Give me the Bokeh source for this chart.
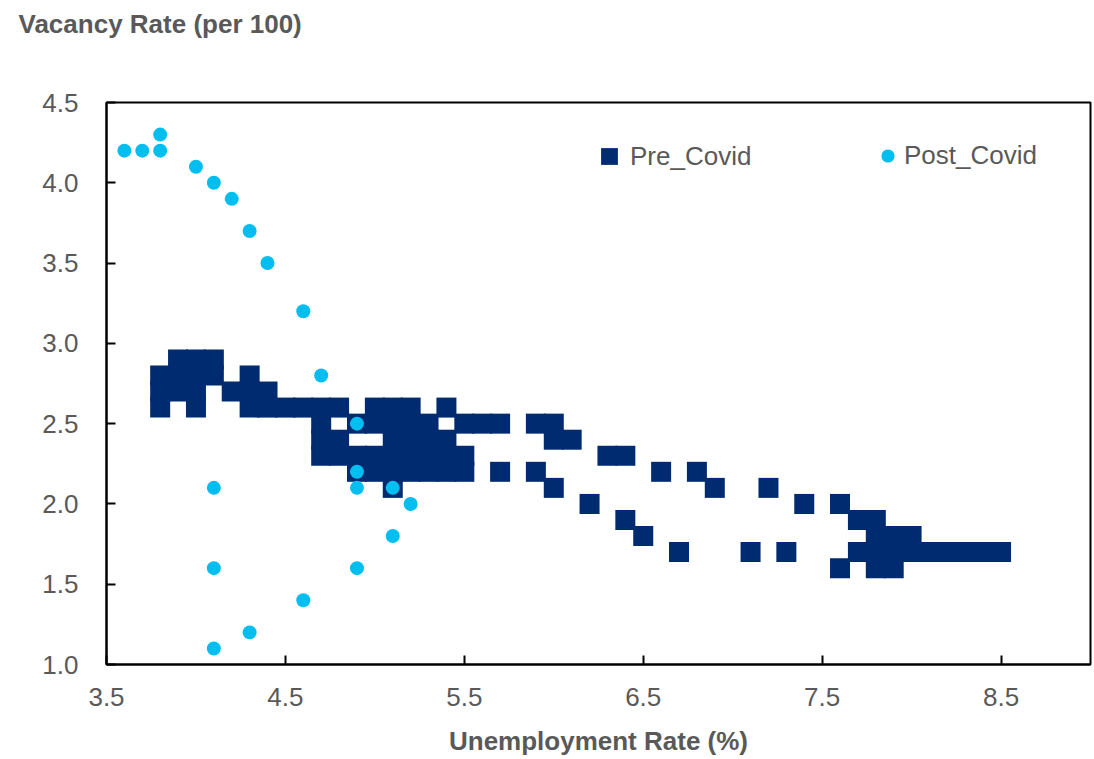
from bokeh.plotting import figure
from bokeh.models import Range1d, FixedTicker, Legend, LegendItem, Title
from bokeh.embed import file_html
from bokeh.resources import INLINE

# ---- data -------------------------------------------------------------
pre_unemp = [
    3.9, 4.0, 4.1,
    3.8, 3.9, 4.0, 4.1, 4.3,
    3.8, 3.9, 4.0, 4.2, 4.3, 4.4,
    3.8, 4.0, 4.3, 4.4, 4.5, 4.6, 4.7, 4.8, 5.0, 5.1, 5.2, 5.4,
    4.7, 4.9, 5.0, 5.1, 5.2, 5.3, 5.5, 5.6, 5.7, 5.9, 6.0,
    4.7, 4.8, 5.1, 5.2, 5.3, 5.4, 6.0, 6.1,
    4.7, 4.8, 4.9, 5.0, 5.1, 5.2, 5.3, 5.4, 5.5, 6.3, 6.4,
    4.9, 5.0, 5.1, 5.2, 5.3, 5.4, 5.5, 5.7, 5.9, 6.6, 6.8,
    5.1, 6.0, 6.9, 7.2,
    6.2, 7.4, 7.6,
    6.4, 7.7, 7.8,
    6.5, 7.8, 7.9, 8.0,
    6.7, 7.1, 7.3, 7.7, 7.8, 7.9, 8.0, 8.1, 8.2, 8.3, 8.4, 8.5,
    7.6, 7.8, 7.9,
]
pre_vac = (
    [2.9] * 3 + [2.8] * 5 + [2.7] * 6 + [2.6] * 12 + [2.5] * 11 + [2.4] * 8
    + [2.3] * 11 + [2.2] * 11 + [2.1] * 4 + [2.0] * 3 + [1.9] * 3 + [1.8] * 4
    + [1.7] * 12 + [1.6] * 3
)

post_unemp = [3.6, 3.7, 3.8, 3.8, 4.0, 4.1, 4.2, 4.3, 4.4, 4.6, 4.7, 4.9,
              4.9, 4.9, 5.1, 5.2, 5.1, 4.9, 4.1, 4.1, 4.6, 4.3, 4.1]
post_vac = [4.2, 4.2, 4.2, 4.3, 4.1, 4.0, 3.9, 3.7, 3.5, 3.2, 2.8, 2.5,
            2.2, 2.1, 2.1, 2.0, 1.8, 1.6, 2.1, 1.6, 1.4, 1.2, 1.1]

series_names = ["Pre_Covid", "Post_Covid"]
x_ticks = [3.5, 4.5, 5.5, 6.5, 7.5, 8.5]
x_tick_labels = ["3.5", "4.5", "5.5", "6.5", "7.5", "8.5"]
y_ticks = [1.0, 1.5, 2.0, 2.5, 3.0, 3.5, 4.0, 4.5]
y_tick_labels = ["1.0", "1.5", "2.0", "2.5", "3.0", "3.5", "4.0", "4.5"]
x_title = "Unemployment Rate (%)"
y_title = "Vacancy Rate (per 100)"

# ---- style ------------------------------------------------------------
NAVY = "#002B70"
CYAN = "#00BEF0"
GREY = "#595959"
FONT = "Liberation Sans"

p = figure(width=1092, height=759,
           x_range=Range1d(3.5, 9.0), y_range=Range1d(1.0, 4.5),
           output_backend="svg", toolbar_location=None,
           min_border_left=106, min_border_right=2,
           min_border_top=102, min_border_bottom=95,
           background_fill_color="white", border_fill_color="white")
p.grid.visible = False
p.outline_line_color = "black"
p.outline_line_width = 2

sq = p.scatter(pre_unemp, pre_vac, marker="square", size=20,
               fill_color=NAVY, line_color=None)
ci = p.scatter(post_unemp, post_vac, marker="circle", size=14,
               fill_color=CYAN, line_color=None)

for ax in (p.xaxis[0], p.yaxis[0]):
    ax.major_tick_in = 9
    ax.major_tick_out = 0
    ax.major_tick_line_width = 2
    ax.major_tick_line_color = "black"
    ax.minor_tick_line_color = None
    ax.axis_line_width = 2
    ax.axis_line_color = "black"
    ax.major_label_text_font = FONT
    ax.major_label_text_font_size = "26px"
    ax.major_label_text_color = GREY

p.xaxis.ticker = FixedTicker(ticks=x_ticks)
p.xaxis.major_label_overrides = dict(zip(x_ticks, x_tick_labels))
p.xaxis.major_label_standoff = 23
p.xaxis.axis_label = x_title
p.xaxis.axis_label_text_font = FONT
p.xaxis.axis_label_text_font_style = "bold"
p.xaxis.axis_label_text_font_size = "26px"
p.xaxis.axis_label_text_color = GREY
p.xaxis.axis_label_standoff = 17

p.yaxis.ticker = FixedTicker(ticks=y_ticks)
p.yaxis.major_label_overrides = dict(zip(y_ticks, y_tick_labels))
p.yaxis.major_label_standoff = 28

# spacer panel between the title and the frame
p.add_layout(Title(text=" ", text_font_size="1px", standoff=52), "above")

p.title.text = y_title
p.title.align = "left"
p.title.vertical_align = "top"
p.title.offset = -88
p.title.standoff = 14
p.title.text_font = FONT
p.title.text_font_style = "bold"
p.title.text_font_size = "26px"
p.title.text_color = GREY

common = dict(orientation="horizontal", padding=0, margin=0,
              border_line_color=None, background_fill_alpha=0,
              label_text_font=FONT, label_text_font_size="26px",
              label_text_color=GREY, label_standoff=0)
leg1 = Legend(items=[LegendItem(label=series_names[0], renderers=[sq])],
              location=(482, 487), glyph_width=42, glyph_height=42, **common)
leg2 = Legend(items=[LegendItem(label=series_names[1], renderers=[ci])],
              location=(765, 492), glyph_width=33, glyph_height=33, **common)
p.add_layout(leg1)
p.add_layout(leg2)

open("out.html", "w").write(file_html(p, INLINE))
